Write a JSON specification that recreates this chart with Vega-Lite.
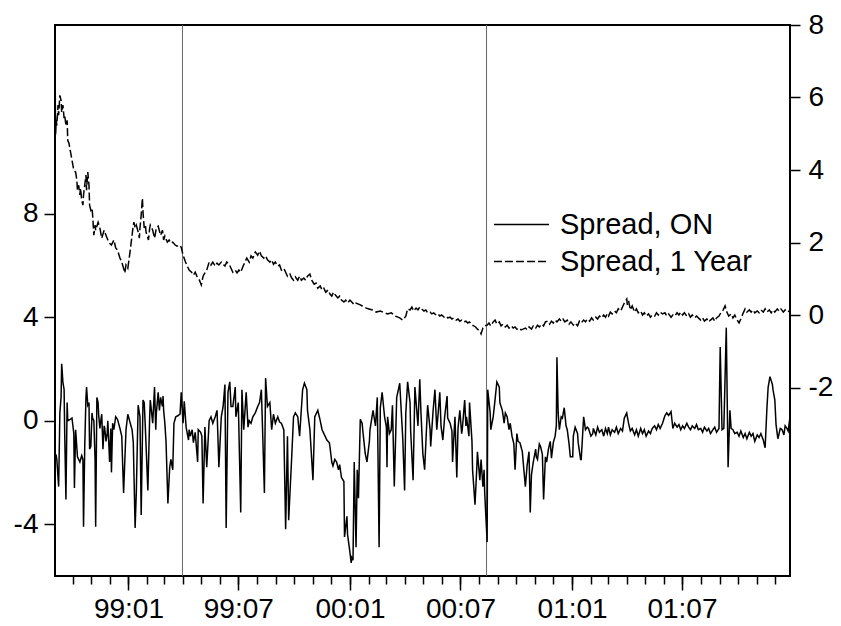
{
  "$schema": "https://vega.github.io/schema/vega-lite/v6.json",
  "width": 735,
  "height": 551,
  "autosize": {"type": "none"},
  "padding": {"left": 55, "top": 25, "right": 51, "bottom": 50},
  "background": "white",
  "config": {
    "view": {"stroke": "black", "strokeWidth": 2},
    "font": "Liberation Sans",
    "axis": {"labelFont": "Liberation Sans", "labelFontSize": 28, "labelColor": "#000", "tickColor": "#000", "tickWidth": 1.5, "domain": false, "grid": false}
  },
  "datasets": {
    "events": [{"date": "1999-03-31"}, {"date": "2000-08-13"}],
    "on": [
      {"date":"1998-09-02","value":-1.4,"series":"Spread, ON"},
      {"date":"1998-09-04","value":-1.35,"series":"Spread, ON"},
      {"date":"1998-09-05","value":-1.5,"series":"Spread, ON"},
      {"date":"1998-09-08","value":-2.55,"series":"Spread, ON"},
      {"date":"1998-09-10","value":0.3,"series":"Spread, ON"},
      {"date":"1998-09-12","value":0.9,"series":"Spread, ON"},
      {"date":"1998-09-13","value":2.2,"series":"Spread, ON"},
      {"date":"1998-09-15","value":1.5,"series":"Spread, ON"},
      {"date":"1998-09-17","value":1.2,"series":"Spread, ON"},
      {"date":"1998-09-18","value":-0.5,"series":"Spread, ON"},
      {"date":"1998-09-20","value":-3.05,"series":"Spread, ON"},
      {"date":"1998-09-22","value":0.7,"series":"Spread, ON"},
      {"date":"1998-09-23","value":0,"series":"Spread, ON"},
      {"date":"1998-09-27","value":0.05,"series":"Spread, ON"},
      {"date":"1998-09-30","value":0.1,"series":"Spread, ON"},
      {"date":"1998-10-03","value":-0.5,"series":"Spread, ON"},
      {"date":"1998-10-04","value":-2.6,"series":"Spread, ON"},
      {"date":"1998-10-06","value":-0.35,"series":"Spread, ON"},
      {"date":"1998-10-09","value":-1.4,"series":"Spread, ON"},
      {"date":"1998-10-13","value":-1.6,"series":"Spread, ON"},
      {"date":"1998-10-16","value":-1.35,"series":"Spread, ON"},
      {"date":"1998-10-18","value":-1.5,"series":"Spread, ON"},
      {"date":"1998-10-19","value":-4.1,"series":"Spread, ON"},
      {"date":"1998-10-21","value":-1.0,"series":"Spread, ON"},
      {"date":"1998-10-23","value":0.9,"series":"Spread, ON"},
      {"date":"1998-10-24","value":1.3,"series":"Spread, ON"},
      {"date":"1998-10-26","value":0.6,"series":"Spread, ON"},
      {"date":"1998-10-28","value":0.7,"series":"Spread, ON"},
      {"date":"1998-10-29","value":-1.1,"series":"Spread, ON"},
      {"date":"1998-10-31","value":-1.0,"series":"Spread, ON"},
      {"date":"1998-11-02","value":0.3,"series":"Spread, ON"},
      {"date":"1998-11-03","value":0.1,"series":"Spread, ON"},
      {"date":"1998-11-05","value":0,"series":"Spread, ON"},
      {"date":"1998-11-07","value":-1.5,"series":"Spread, ON"},
      {"date":"1998-11-08","value":-4.1,"series":"Spread, ON"},
      {"date":"1998-11-10","value":0.9,"series":"Spread, ON"},
      {"date":"1998-11-12","value":0.7,"series":"Spread, ON"},
      {"date":"1998-11-13","value":0.2,"series":"Spread, ON"},
      {"date":"1998-11-15","value":-0.3,"series":"Spread, ON"},
      {"date":"1998-11-17","value":0.1,"series":"Spread, ON"},
      {"date":"1998-11-18","value":0.25,"series":"Spread, ON"},
      {"date":"1998-11-20","value":-1.1,"series":"Spread, ON"},
      {"date":"1998-11-22","value":-0.2,"series":"Spread, ON"},
      {"date":"1998-11-23","value":-0.3,"series":"Spread, ON"},
      {"date":"1998-11-25","value":-0.8,"series":"Spread, ON"},
      {"date":"1998-11-27","value":-0.5,"series":"Spread, ON"},
      {"date":"1998-11-28","value":0,"series":"Spread, ON"},
      {"date":"1998-12-01","value":-1.6,"series":"Spread, ON"},
      {"date":"1998-12-03","value":-0.3,"series":"Spread, ON"},
      {"date":"1998-12-04","value":-2.0,"series":"Spread, ON"},
      {"date":"1998-12-06","value":-0.1,"series":"Spread, ON"},
      {"date":"1998-12-08","value":-0.35,"series":"Spread, ON"},
      {"date":"1998-12-11","value":0.15,"series":"Spread, ON"},
      {"date":"1998-12-14","value":0.05,"series":"Spread, ON"},
      {"date":"1998-12-18","value":-0.3,"series":"Spread, ON"},
      {"date":"1998-12-21","value":-0.6,"series":"Spread, ON"},
      {"date":"1998-12-24","value":-2.8,"series":"Spread, ON"},
      {"date":"1998-12-28","value":-0.35,"series":"Spread, ON"},
      {"date":"1998-12-31","value":0.25,"series":"Spread, ON"},
      {"date":"1999-01-04","value":-0.1,"series":"Spread, ON"},
      {"date":"1999-01-07","value":-0.35,"series":"Spread, ON"},
      {"date":"1999-01-09","value":-0.85,"series":"Spread, ON"},
      {"date":"1999-01-12","value":-4.15,"series":"Spread, ON"},
      {"date":"1999-01-14","value":-2.75,"series":"Spread, ON"},
      {"date":"1999-01-17","value":0.6,"series":"Spread, ON"},
      {"date":"1999-01-20","value":0.15,"series":"Spread, ON"},
      {"date":"1999-01-22","value":-3.65,"series":"Spread, ON"},
      {"date":"1999-01-25","value":0.8,"series":"Spread, ON"},
      {"date":"1999-01-27","value":0.7,"series":"Spread, ON"},
      {"date":"1999-01-29","value":-0.35,"series":"Spread, ON"},
      {"date":"1999-02-02","value":-2.7,"series":"Spread, ON"},
      {"date":"1999-02-05","value":0.15,"series":"Spread, ON"},
      {"date":"1999-02-06","value":0.8,"series":"Spread, ON"},
      {"date":"1999-02-10","value":-0.1,"series":"Spread, ON"},
      {"date":"1999-02-13","value":1.3,"series":"Spread, ON"},
      {"date":"1999-02-15","value":-0.35,"series":"Spread, ON"},
      {"date":"1999-02-16","value":0.3,"series":"Spread, ON"},
      {"date":"1999-02-19","value":1.1,"series":"Spread, ON"},
      {"date":"1999-02-21","value":0.4,"series":"Spread, ON"},
      {"date":"1999-02-23","value":0.9,"series":"Spread, ON"},
      {"date":"1999-02-26","value":0.55,"series":"Spread, ON"},
      {"date":"1999-02-27","value":0.95,"series":"Spread, ON"},
      {"date":"1999-02-28","value":0.4,"series":"Spread, ON"},
      {"date":"1999-03-02","value":-0.1,"series":"Spread, ON"},
      {"date":"1999-03-04","value":-0.85,"series":"Spread, ON"},
      {"date":"1999-03-07","value":-3.2,"series":"Spread, ON"},
      {"date":"1999-03-10","value":-1.8,"series":"Spread, ON"},
      {"date":"1999-03-12","value":-1.5,"series":"Spread, ON"},
      {"date":"1999-03-15","value":-1.9,"series":"Spread, ON"},
      {"date":"1999-03-17","value":-0.1,"series":"Spread, ON"},
      {"date":"1999-03-20","value":0.15,"series":"Spread, ON"},
      {"date":"1999-03-24","value":0.2,"series":"Spread, ON"},
      {"date":"1999-03-27","value":0.25,"series":"Spread, ON"},
      {"date":"1999-03-29","value":1.1,"series":"Spread, ON"},
      {"date":"1999-04-01","value":-0.1,"series":"Spread, ON"},
      {"date":"1999-04-03","value":0.75,"series":"Spread, ON"},
      {"date":"1999-04-06","value":-0.25,"series":"Spread, ON"},
      {"date":"1999-04-10","value":-0.75,"series":"Spread, ON"},
      {"date":"1999-04-11","value":-0.35,"series":"Spread, ON"},
      {"date":"1999-04-13","value":-0.6,"series":"Spread, ON"},
      {"date":"1999-04-16","value":-0.35,"series":"Spread, ON"},
      {"date":"1999-04-18","value":-0.85,"series":"Spread, ON"},
      {"date":"1999-04-21","value":-0.45,"series":"Spread, ON"},
      {"date":"1999-04-25","value":-1.6,"series":"Spread, ON"},
      {"date":"1999-04-26","value":-0.35,"series":"Spread, ON"},
      {"date":"1999-04-30","value":-0.45,"series":"Spread, ON"},
      {"date":"1999-05-02","value":-0.6,"series":"Spread, ON"},
      {"date":"1999-05-04","value":-3.2,"series":"Spread, ON"},
      {"date":"1999-05-07","value":-0.25,"series":"Spread, ON"},
      {"date":"1999-05-10","value":-1.8,"series":"Spread, ON"},
      {"date":"1999-05-14","value":0,"series":"Spread, ON"},
      {"date":"1999-05-17","value":0.15,"series":"Spread, ON"},
      {"date":"1999-05-20","value":-0.1,"series":"Spread, ON"},
      {"date":"1999-05-24","value":0.15,"series":"Spread, ON"},
      {"date":"1999-05-27","value":0.4,"series":"Spread, ON"},
      {"date":"1999-05-30","value":-1.8,"series":"Spread, ON"},
      {"date":"1999-06-03","value":0.15,"series":"Spread, ON"},
      {"date":"1999-06-06","value":0.55,"series":"Spread, ON"},
      {"date":"1999-06-09","value":1.4,"series":"Spread, ON"},
      {"date":"1999-06-11","value":-4.15,"series":"Spread, ON"},
      {"date":"1999-06-14","value":1.1,"series":"Spread, ON"},
      {"date":"1999-06-17","value":1.5,"series":"Spread, ON"},
      {"date":"1999-06-19","value":0.55,"series":"Spread, ON"},
      {"date":"1999-06-22","value":0.55,"series":"Spread, ON"},
      {"date":"1999-06-26","value":1.3,"series":"Spread, ON"},
      {"date":"1999-06-27","value":0.15,"series":"Spread, ON"},
      {"date":"1999-07-01","value":0.7,"series":"Spread, ON"},
      {"date":"1999-07-02","value":-0.35,"series":"Spread, ON"},
      {"date":"1999-07-05","value":-3.55,"series":"Spread, ON"},
      {"date":"1999-07-07","value":1.2,"series":"Spread, ON"},
      {"date":"1999-07-10","value":-0.35,"series":"Spread, ON"},
      {"date":"1999-07-14","value":1.1,"series":"Spread, ON"},
      {"date":"1999-07-17","value":-0.25,"series":"Spread, ON"},
      {"date":"1999-07-19","value":0,"series":"Spread, ON"},
      {"date":"1999-07-22","value":-0.1,"series":"Spread, ON"},
      {"date":"1999-07-25","value":0.15,"series":"Spread, ON"},
      {"date":"1999-07-29","value":0.3,"series":"Spread, ON"},
      {"date":"1999-08-02","value":0.55,"series":"Spread, ON"},
      {"date":"1999-08-05","value":0.7,"series":"Spread, ON"},
      {"date":"1999-08-08","value":1.2,"series":"Spread, ON"},
      {"date":"1999-08-10","value":-0.35,"series":"Spread, ON"},
      {"date":"1999-08-13","value":-2.8,"series":"Spread, ON"},
      {"date":"1999-08-15","value":1.65,"series":"Spread, ON"},
      {"date":"1999-08-18","value":0.55,"series":"Spread, ON"},
      {"date":"1999-08-22","value":0.7,"series":"Spread, ON"},
      {"date":"1999-08-25","value":-0.35,"series":"Spread, ON"},
      {"date":"1999-08-28","value":0.25,"series":"Spread, ON"},
      {"date":"1999-08-31","value":-0.1,"series":"Spread, ON"},
      {"date":"1999-09-04","value":0.15,"series":"Spread, ON"},
      {"date":"1999-09-07","value":-0.05,"series":"Spread, ON"},
      {"date":"1999-09-10","value":-0.1,"series":"Spread, ON"},
      {"date":"1999-09-14","value":-0.35,"series":"Spread, ON"},
      {"date":"1999-09-17","value":-4.2,"series":"Spread, ON"},
      {"date":"1999-09-20","value":-0.6,"series":"Spread, ON"},
      {"date":"1999-09-22","value":-3.85,"series":"Spread, ON"},
      {"date":"1999-09-27","value":-1.4,"series":"Spread, ON"},
      {"date":"1999-09-30","value":0.15,"series":"Spread, ON"},
      {"date":"1999-10-03","value":0.3,"series":"Spread, ON"},
      {"date":"1999-10-07","value":0.15,"series":"Spread, ON"},
      {"date":"1999-10-10","value":-0.6,"series":"Spread, ON"},
      {"date":"1999-10-15","value":1.2,"series":"Spread, ON"},
      {"date":"1999-10-18","value":1.45,"series":"Spread, ON"},
      {"date":"1999-10-22","value":1.2,"series":"Spread, ON"},
      {"date":"1999-10-23","value":0.4,"series":"Spread, ON"},
      {"date":"1999-10-27","value":-0.35,"series":"Spread, ON"},
      {"date":"1999-11-01","value":-2.3,"series":"Spread, ON"},
      {"date":"1999-11-04","value":0.15,"series":"Spread, ON"},
      {"date":"1999-11-09","value":0.4,"series":"Spread, ON"},
      {"date":"1999-11-13","value":0,"series":"Spread, ON"},
      {"date":"1999-11-16","value":-0.35,"series":"Spread, ON"},
      {"date":"1999-11-21","value":-0.6,"series":"Spread, ON"},
      {"date":"1999-11-24","value":-0.75,"series":"Spread, ON"},
      {"date":"1999-11-28","value":-0.85,"series":"Spread, ON"},
      {"date":"1999-11-29","value":-1.0,"series":"Spread, ON"},
      {"date":"1999-12-02","value":-1.6,"series":"Spread, ON"},
      {"date":"1999-12-04","value":-1.75,"series":"Spread, ON"},
      {"date":"1999-12-07","value":-1.5,"series":"Spread, ON"},
      {"date":"1999-12-10","value":-1.6,"series":"Spread, ON"},
      {"date":"1999-12-13","value":-1.9,"series":"Spread, ON"},
      {"date":"1999-12-15","value":-1.7,"series":"Spread, ON"},
      {"date":"1999-12-18","value":-2.2,"series":"Spread, ON"},
      {"date":"1999-12-22","value":-2.35,"series":"Spread, ON"},
      {"date":"1999-12-23","value":-4.5,"series":"Spread, ON"},
      {"date":"1999-12-27","value":-3.7,"series":"Spread, ON"},
      {"date":"1999-12-28","value":-4.4,"series":"Spread, ON"},
      {"date":"2000-01-01","value":-5.1,"series":"Spread, ON"},
      {"date":"2000-01-03","value":-5.5,"series":"Spread, ON"},
      {"date":"2000-01-04","value":-5.3,"series":"Spread, ON"},
      {"date":"2000-01-06","value":-5.4,"series":"Spread, ON"},
      {"date":"2000-01-08","value":-1.6,"series":"Spread, ON"},
      {"date":"2000-01-11","value":-4.9,"series":"Spread, ON"},
      {"date":"2000-01-13","value":-1.9,"series":"Spread, ON"},
      {"date":"2000-01-15","value":-3.0,"series":"Spread, ON"},
      {"date":"2000-01-18","value":0.05,"series":"Spread, ON"},
      {"date":"2000-01-21","value":-0.1,"series":"Spread, ON"},
      {"date":"2000-01-22","value":-0.35,"series":"Spread, ON"},
      {"date":"2000-01-26","value":-1.25,"series":"Spread, ON"},
      {"date":"2000-01-29","value":-1.6,"series":"Spread, ON"},
      {"date":"2000-02-02","value":-0.8,"series":"Spread, ON"},
      {"date":"2000-02-03","value":-0.35,"series":"Spread, ON"},
      {"date":"2000-02-08","value":0.4,"series":"Spread, ON"},
      {"date":"2000-02-12","value":-0.2,"series":"Spread, ON"},
      {"date":"2000-02-15","value":0.9,"series":"Spread, ON"},
      {"date":"2000-02-18","value":-4.9,"series":"Spread, ON"},
      {"date":"2000-02-20","value":0.5,"series":"Spread, ON"},
      {"date":"2000-02-23","value":1.1,"series":"Spread, ON"},
      {"date":"2000-02-27","value":0.15,"series":"Spread, ON"},
      {"date":"2000-03-01","value":-0.25,"series":"Spread, ON"},
      {"date":"2000-03-02","value":-1.8,"series":"Spread, ON"},
      {"date":"2000-03-03","value":0.15,"series":"Spread, ON"},
      {"date":"2000-03-06","value":-0.5,"series":"Spread, ON"},
      {"date":"2000-03-09","value":-0.35,"series":"Spread, ON"},
      {"date":"2000-03-11","value":0.6,"series":"Spread, ON"},
      {"date":"2000-03-14","value":-2.55,"series":"Spread, ON"},
      {"date":"2000-03-18","value":0.9,"series":"Spread, ON"},
      {"date":"2000-03-23","value":1.45,"series":"Spread, ON"},
      {"date":"2000-03-26","value":0.15,"series":"Spread, ON"},
      {"date":"2000-03-28","value":-0.7,"series":"Spread, ON"},
      {"date":"2000-03-31","value":-2.7,"series":"Spread, ON"},
      {"date":"2000-04-02","value":0.3,"series":"Spread, ON"},
      {"date":"2000-04-05","value":1.5,"series":"Spread, ON"},
      {"date":"2000-04-09","value":0.7,"series":"Spread, ON"},
      {"date":"2000-04-10","value":-0.4,"series":"Spread, ON"},
      {"date":"2000-04-14","value":-2.3,"series":"Spread, ON"},
      {"date":"2000-04-17","value":1.3,"series":"Spread, ON"},
      {"date":"2000-04-20","value":0.4,"series":"Spread, ON"},
      {"date":"2000-04-22","value":-0.2,"series":"Spread, ON"},
      {"date":"2000-04-25","value":1.6,"series":"Spread, ON"},
      {"date":"2000-04-27","value":0.3,"series":"Spread, ON"},
      {"date":"2000-04-30","value":-1.25,"series":"Spread, ON"},
      {"date":"2000-05-03","value":-1.9,"series":"Spread, ON"},
      {"date":"2000-05-07","value":0.15,"series":"Spread, ON"},
      {"date":"2000-05-08","value":0.6,"series":"Spread, ON"},
      {"date":"2000-05-12","value":-0.35,"series":"Spread, ON"},
      {"date":"2000-05-13","value":-1.0,"series":"Spread, ON"},
      {"date":"2000-05-17","value":0.4,"series":"Spread, ON"},
      {"date":"2000-05-20","value":1.2,"series":"Spread, ON"},
      {"date":"2000-05-23","value":-0.35,"series":"Spread, ON"},
      {"date":"2000-05-25","value":0.2,"series":"Spread, ON"},
      {"date":"2000-05-28","value":1.1,"series":"Spread, ON"},
      {"date":"2000-05-30","value":-0.2,"series":"Spread, ON"},
      {"date":"2000-06-02","value":-0.75,"series":"Spread, ON"},
      {"date":"2000-06-05","value":0.15,"series":"Spread, ON"},
      {"date":"2000-06-09","value":0.95,"series":"Spread, ON"},
      {"date":"2000-06-10","value":0.1,"series":"Spread, ON"},
      {"date":"2000-06-14","value":-0.1,"series":"Spread, ON"},
      {"date":"2000-06-17","value":-0.4,"series":"Spread, ON"},
      {"date":"2000-06-18","value":-1.6,"series":"Spread, ON"},
      {"date":"2000-06-22","value":0.15,"series":"Spread, ON"},
      {"date":"2000-06-25","value":-2.2,"series":"Spread, ON"},
      {"date":"2000-06-27","value":-0.3,"series":"Spread, ON"},
      {"date":"2000-06-30","value":0.4,"series":"Spread, ON"},
      {"date":"2000-07-03","value":-0.5,"series":"Spread, ON"},
      {"date":"2000-07-04","value":-0.35,"series":"Spread, ON"},
      {"date":"2000-07-08","value":0.8,"series":"Spread, ON"},
      {"date":"2000-07-10","value":-0.2,"series":"Spread, ON"},
      {"date":"2000-07-11","value":0.15,"series":"Spread, ON"},
      {"date":"2000-07-15","value":-0.6,"series":"Spread, ON"},
      {"date":"2000-07-16","value":0.7,"series":"Spread, ON"},
      {"date":"2000-07-20","value":-0.8,"series":"Spread, ON"},
      {"date":"2000-07-21","value":-1.9,"series":"Spread, ON"},
      {"date":"2000-07-25","value":-3.25,"series":"Spread, ON"},
      {"date":"2000-07-28","value":-1.8,"series":"Spread, ON"},
      {"date":"2000-07-29","value":-1.2,"series":"Spread, ON"},
      {"date":"2000-08-02","value":-2.3,"series":"Spread, ON"},
      {"date":"2000-08-04","value":-1.5,"series":"Spread, ON"},
      {"date":"2000-08-07","value":-2.55,"series":"Spread, ON"},
      {"date":"2000-08-09","value":-1.9,"series":"Spread, ON"},
      {"date":"2000-08-10","value":-2.8,"series":"Spread, ON"},
      {"date":"2000-08-14","value":-4.7,"series":"Spread, ON"},
      {"date":"2000-08-15","value":1.2,"series":"Spread, ON"},
      {"date":"2000-08-19","value":0.3,"series":"Spread, ON"},
      {"date":"2000-08-20","value":-0.35,"series":"Spread, ON"},
      {"date":"2000-08-22","value":-0.1,"series":"Spread, ON"},
      {"date":"2000-08-24","value":0.15,"series":"Spread, ON"},
      {"date":"2000-08-27","value":0.8,"series":"Spread, ON"},
      {"date":"2000-08-30","value":1.5,"series":"Spread, ON"},
      {"date":"2000-09-03","value":1.3,"series":"Spread, ON"},
      {"date":"2000-09-04","value":0.7,"series":"Spread, ON"},
      {"date":"2000-09-08","value":0.4,"series":"Spread, ON"},
      {"date":"2000-09-11","value":-0.1,"series":"Spread, ON"},
      {"date":"2000-09-13","value":0.3,"series":"Spread, ON"},
      {"date":"2000-09-16","value":0.15,"series":"Spread, ON"},
      {"date":"2000-09-19","value":-0.35,"series":"Spread, ON"},
      {"date":"2000-09-21","value":-0.1,"series":"Spread, ON"},
      {"date":"2000-09-24","value":-0.6,"series":"Spread, ON"},
      {"date":"2000-09-27","value":-0.9,"series":"Spread, ON"},
      {"date":"2000-09-29","value":-1.9,"series":"Spread, ON"},
      {"date":"2000-10-02","value":-0.5,"series":"Spread, ON"},
      {"date":"2000-10-04","value":-0.8,"series":"Spread, ON"},
      {"date":"2000-10-07","value":-0.85,"series":"Spread, ON"},
      {"date":"2000-10-11","value":-1.2,"series":"Spread, ON"},
      {"date":"2000-10-12","value":-1.5,"series":"Spread, ON"},
      {"date":"2000-10-16","value":-2.55,"series":"Spread, ON"},
      {"date":"2000-10-19","value":-1.7,"series":"Spread, ON"},
      {"date":"2000-10-22","value":-1.2,"series":"Spread, ON"},
      {"date":"2000-10-24","value":-3.55,"series":"Spread, ON"},
      {"date":"2000-10-26","value":-2.1,"series":"Spread, ON"},
      {"date":"2000-10-29","value":-1.6,"series":"Spread, ON"},
      {"date":"2000-11-02","value":-1.1,"series":"Spread, ON"},
      {"date":"2000-11-03","value":-1.4,"series":"Spread, ON"},
      {"date":"2000-11-05","value":-1.5,"series":"Spread, ON"},
      {"date":"2000-11-08","value":-0.9,"series":"Spread, ON"},
      {"date":"2000-11-10","value":-1.0,"series":"Spread, ON"},
      {"date":"2000-11-13","value":-1.3,"series":"Spread, ON"},
      {"date":"2000-11-15","value":-3.05,"series":"Spread, ON"},
      {"date":"2000-11-18","value":-1.4,"series":"Spread, ON"},
      {"date":"2000-11-20","value":-1.6,"series":"Spread, ON"},
      {"date":"2000-11-23","value":-1.1,"series":"Spread, ON"},
      {"date":"2000-11-26","value":-0.8,"series":"Spread, ON"},
      {"date":"2000-11-28","value":-1.45,"series":"Spread, ON"},
      {"date":"2000-12-01","value":-0.85,"series":"Spread, ON"},
      {"date":"2000-12-04","value":-0.6,"series":"Spread, ON"},
      {"date":"2000-12-06","value":-0.2,"series":"Spread, ON"},
      {"date":"2000-12-07","value":2.45,"series":"Spread, ON"},
      {"date":"2000-12-09","value":0.3,"series":"Spread, ON"},
      {"date":"2000-12-11","value":-0.35,"series":"Spread, ON"},
      {"date":"2000-12-14","value":0.15,"series":"Spread, ON"},
      {"date":"2000-12-16","value":0.1,"series":"Spread, ON"},
      {"date":"2000-12-19","value":0.5,"series":"Spread, ON"},
      {"date":"2000-12-22","value":-0.2,"series":"Spread, ON"},
      {"date":"2000-12-24","value":-0.35,"series":"Spread, ON"},
      {"date":"2000-12-27","value":-0.9,"series":"Spread, ON"},
      {"date":"2000-12-29","value":-1.4,"series":"Spread, ON"},
      {"date":"2001-01-02","value":-1.4,"series":"Spread, ON"},
      {"date":"2001-01-03","value":-0.6,"series":"Spread, ON"},
      {"date":"2001-01-06","value":-0.25,"series":"Spread, ON"},
      {"date":"2001-01-10","value":-0.5,"series":"Spread, ON"},
      {"date":"2001-01-11","value":-0.85,"series":"Spread, ON"},
      {"date":"2001-01-15","value":-1.5,"series":"Spread, ON"},
      {"date":"2001-01-16","value":-1.5,"series":"Spread, ON"},
      {"date":"2001-01-20","value":0.15,"series":"Spread, ON"},
      {"date":"2001-01-23","value":-0.35,"series":"Spread, ON"},
      {"date":"2001-01-26","value":-0.25,"series":"Spread, ON"},
      {"date":"2001-01-28","value":-0.3,"series":"Spread, ON"},
      {"date":"2001-02-01","value":-0.6,"series":"Spread, ON"},
      {"date":"2001-02-04","value":-0.5,"series":"Spread, ON"},
      {"date":"2001-02-05","value":-0.3,"series":"Spread, ON"},
      {"date":"2001-02-09","value":-0.55,"series":"Spread, ON"},
      {"date":"2001-02-12","value":-0.25,"series":"Spread, ON"},
      {"date":"2001-02-15","value":-0.45,"series":"Spread, ON"},
      {"date":"2001-02-19","value":-0.35,"series":"Spread, ON"},
      {"date":"2001-02-22","value":-0.6,"series":"Spread, ON"},
      {"date":"2001-02-25","value":-0.3,"series":"Spread, ON"},
      {"date":"2001-02-28","value":-0.5,"series":"Spread, ON"},
      {"date":"2001-03-02","value":-0.25,"series":"Spread, ON"},
      {"date":"2001-03-05","value":-0.55,"series":"Spread, ON"},
      {"date":"2001-03-08","value":-0.35,"series":"Spread, ON"},
      {"date":"2001-03-12","value":-0.45,"series":"Spread, ON"},
      {"date":"2001-03-15","value":-0.25,"series":"Spread, ON"},
      {"date":"2001-03-18","value":-0.5,"series":"Spread, ON"},
      {"date":"2001-03-22","value":-0.3,"series":"Spread, ON"},
      {"date":"2001-03-25","value":-0.4,"series":"Spread, ON"},
      {"date":"2001-03-28","value":0.1,"series":"Spread, ON"},
      {"date":"2001-04-01","value":0.3,"series":"Spread, ON"},
      {"date":"2001-04-02","value":0.15,"series":"Spread, ON"},
      {"date":"2001-04-04","value":-0.1,"series":"Spread, ON"},
      {"date":"2001-04-07","value":-0.4,"series":"Spread, ON"},
      {"date":"2001-04-10","value":-0.3,"series":"Spread, ON"},
      {"date":"2001-04-14","value":-0.55,"series":"Spread, ON"},
      {"date":"2001-04-17","value":-0.35,"series":"Spread, ON"},
      {"date":"2001-04-20","value":-0.6,"series":"Spread, ON"},
      {"date":"2001-04-24","value":-0.3,"series":"Spread, ON"},
      {"date":"2001-04-27","value":-0.5,"series":"Spread, ON"},
      {"date":"2001-04-30","value":-0.35,"series":"Spread, ON"},
      {"date":"2001-05-03","value":-0.6,"series":"Spread, ON"},
      {"date":"2001-05-07","value":-0.4,"series":"Spread, ON"},
      {"date":"2001-05-10","value":-0.5,"series":"Spread, ON"},
      {"date":"2001-05-13","value":-0.3,"series":"Spread, ON"},
      {"date":"2001-05-17","value":-0.2,"series":"Spread, ON"},
      {"date":"2001-05-20","value":-0.35,"series":"Spread, ON"},
      {"date":"2001-05-23","value":-0.15,"series":"Spread, ON"},
      {"date":"2001-05-26","value":-0.3,"series":"Spread, ON"},
      {"date":"2001-05-30","value":-0.1,"series":"Spread, ON"},
      {"date":"2001-06-03","value":0.2,"series":"Spread, ON"},
      {"date":"2001-06-06","value":0.3,"series":"Spread, ON"},
      {"date":"2001-06-09","value":0.2,"series":"Spread, ON"},
      {"date":"2001-06-13","value":0.35,"series":"Spread, ON"},
      {"date":"2001-06-16","value":-0.3,"series":"Spread, ON"},
      {"date":"2001-06-19","value":-0.1,"series":"Spread, ON"},
      {"date":"2001-06-23","value":-0.25,"series":"Spread, ON"},
      {"date":"2001-06-26","value":-0.15,"series":"Spread, ON"},
      {"date":"2001-06-29","value":-0.35,"series":"Spread, ON"},
      {"date":"2001-07-02","value":-0.2,"series":"Spread, ON"},
      {"date":"2001-07-05","value":-0.3,"series":"Spread, ON"},
      {"date":"2001-07-09","value":-0.1,"series":"Spread, ON"},
      {"date":"2001-07-12","value":-0.25,"series":"Spread, ON"},
      {"date":"2001-07-15","value":-0.35,"series":"Spread, ON"},
      {"date":"2001-07-18","value":-0.2,"series":"Spread, ON"},
      {"date":"2001-07-22","value":-0.3,"series":"Spread, ON"},
      {"date":"2001-07-25","value":-0.15,"series":"Spread, ON"},
      {"date":"2001-07-28","value":-0.35,"series":"Spread, ON"},
      {"date":"2001-08-01","value":-0.3,"series":"Spread, ON"},
      {"date":"2001-08-04","value":-0.45,"series":"Spread, ON"},
      {"date":"2001-08-07","value":-0.25,"series":"Spread, ON"},
      {"date":"2001-08-11","value":-0.4,"series":"Spread, ON"},
      {"date":"2001-08-14","value":-0.3,"series":"Spread, ON"},
      {"date":"2001-08-17","value":-0.5,"series":"Spread, ON"},
      {"date":"2001-08-21","value":-0.35,"series":"Spread, ON"},
      {"date":"2001-08-24","value":-0.25,"series":"Spread, ON"},
      {"date":"2001-08-27","value":-0.45,"series":"Spread, ON"},
      {"date":"2001-08-31","value":-0.3,"series":"Spread, ON"},
      {"date":"2001-09-02","value":2.85,"series":"Spread, ON"},
      {"date":"2001-09-05","value":-0.35,"series":"Spread, ON"},
      {"date":"2001-09-08","value":-0.3,"series":"Spread, ON"},
      {"date":"2001-09-12","value":3.6,"series":"Spread, ON"},
      {"date":"2001-09-15","value":-1.8,"series":"Spread, ON"},
      {"date":"2001-09-18","value":0.4,"series":"Spread, ON"},
      {"date":"2001-09-20","value":-0.3,"series":"Spread, ON"},
      {"date":"2001-09-23","value":-0.35,"series":"Spread, ON"},
      {"date":"2001-09-26","value":-0.5,"series":"Spread, ON"},
      {"date":"2001-09-30","value":-0.45,"series":"Spread, ON"},
      {"date":"2001-10-03","value":-0.6,"series":"Spread, ON"},
      {"date":"2001-10-06","value":-0.4,"series":"Spread, ON"},
      {"date":"2001-10-10","value":-0.65,"series":"Spread, ON"},
      {"date":"2001-10-13","value":-0.5,"series":"Spread, ON"},
      {"date":"2001-10-16","value":-0.7,"series":"Spread, ON"},
      {"date":"2001-10-20","value":-0.45,"series":"Spread, ON"},
      {"date":"2001-10-23","value":-0.6,"series":"Spread, ON"},
      {"date":"2001-10-26","value":-0.5,"series":"Spread, ON"},
      {"date":"2001-10-29","value":-0.8,"series":"Spread, ON"},
      {"date":"2001-11-02","value":-0.55,"series":"Spread, ON"},
      {"date":"2001-11-05","value":-0.65,"series":"Spread, ON"},
      {"date":"2001-11-08","value":-0.5,"series":"Spread, ON"},
      {"date":"2001-11-12","value":-0.75,"series":"Spread, ON"},
      {"date":"2001-11-15","value":-1.05,"series":"Spread, ON"},
      {"date":"2001-11-18","value":0.5,"series":"Spread, ON"},
      {"date":"2001-11-20","value":1.3,"series":"Spread, ON"},
      {"date":"2001-11-23","value":1.7,"series":"Spread, ON"},
      {"date":"2001-11-27","value":1.4,"series":"Spread, ON"},
      {"date":"2001-11-28","value":1.2,"series":"Spread, ON"},
      {"date":"2001-12-01","value":0.8,"series":"Spread, ON"},
      {"date":"2001-12-03","value":-0.15,"series":"Spread, ON"},
      {"date":"2001-12-06","value":-0.7,"series":"Spread, ON"},
      {"date":"2001-12-10","value":-0.3,"series":"Spread, ON"},
      {"date":"2001-12-13","value":-0.35,"series":"Spread, ON"},
      {"date":"2001-12-16","value":-0.55,"series":"Spread, ON"},
      {"date":"2001-12-18","value":-0.2,"series":"Spread, ON"},
      {"date":"2001-12-21","value":-0.3,"series":"Spread, ON"},
      {"date":"2001-12-23","value":-0.4,"series":"Spread, ON"},
      {"date":"2001-12-26","value":0.15,"series":"Spread, ON"}
    ],
    "oneyear": [
      {"date":"1998-09-02","value":7.02,"series":"Spread, 1 Year"},
      {"date":"1998-09-03","value":4.96,"series":"Spread, 1 Year"},
      {"date":"1998-09-04","value":5.37,"series":"Spread, 1 Year"},
      {"date":"1998-09-05","value":5.23,"series":"Spread, 1 Year"},
      {"date":"1998-09-07","value":5.79,"series":"Spread, 1 Year"},
      {"date":"1998-09-08","value":5.51,"series":"Spread, 1 Year"},
      {"date":"1998-09-10","value":6.06,"series":"Spread, 1 Year"},
      {"date":"1998-09-12","value":5.92,"series":"Spread, 1 Year"},
      {"date":"1998-09-13","value":5.59,"series":"Spread, 1 Year"},
      {"date":"1998-09-15","value":5.79,"series":"Spread, 1 Year"},
      {"date":"1998-09-17","value":5.43,"series":"Spread, 1 Year"},
      {"date":"1998-09-18","value":5.51,"series":"Spread, 1 Year"},
      {"date":"1998-09-20","value":5.23,"series":"Spread, 1 Year"},
      {"date":"1998-09-22","value":5.37,"series":"Spread, 1 Year"},
      {"date":"1998-09-23","value":4.82,"series":"Spread, 1 Year"},
      {"date":"1998-09-25","value":4.74,"series":"Spread, 1 Year"},
      {"date":"1998-10-03","value":3.99,"series":"Spread, 1 Year"},
      {"date":"1998-10-06","value":3.94,"series":"Spread, 1 Year"},
      {"date":"1998-10-08","value":3.72,"series":"Spread, 1 Year"},
      {"date":"1998-10-09","value":3.44,"series":"Spread, 1 Year"},
      {"date":"1998-10-11","value":3.58,"series":"Spread, 1 Year"},
      {"date":"1998-10-13","value":3.31,"series":"Spread, 1 Year"},
      {"date":"1998-10-14","value":3.5,"series":"Spread, 1 Year"},
      {"date":"1998-10-16","value":3.17,"series":"Spread, 1 Year"},
      {"date":"1998-10-18","value":3.03,"series":"Spread, 1 Year"},
      {"date":"1998-10-19","value":3.31,"series":"Spread, 1 Year"},
      {"date":"1998-10-21","value":3.58,"series":"Spread, 1 Year"},
      {"date":"1998-10-23","value":3.86,"series":"Spread, 1 Year"},
      {"date":"1998-10-24","value":3.44,"series":"Spread, 1 Year"},
      {"date":"1998-10-26","value":3.94,"series":"Spread, 1 Year"},
      {"date":"1998-10-28","value":3.58,"series":"Spread, 1 Year"},
      {"date":"1998-10-29","value":3.03,"series":"Spread, 1 Year"},
      {"date":"1998-10-31","value":2.89,"series":"Spread, 1 Year"},
      {"date":"1998-11-02","value":2.95,"series":"Spread, 1 Year"},
      {"date":"1998-11-03","value":2.75,"series":"Spread, 1 Year"},
      {"date":"1998-11-05","value":2.2,"series":"Spread, 1 Year"},
      {"date":"1998-11-07","value":2.48,"series":"Spread, 1 Year"},
      {"date":"1998-11-08","value":2.34,"series":"Spread, 1 Year"},
      {"date":"1998-11-12","value":2.56,"series":"Spread, 1 Year"},
      {"date":"1998-11-15","value":2.4,"series":"Spread, 1 Year"},
      {"date":"1998-11-18","value":2.12,"series":"Spread, 1 Year"},
      {"date":"1998-11-22","value":2.34,"series":"Spread, 1 Year"},
      {"date":"1998-11-25","value":2.2,"series":"Spread, 1 Year"},
      {"date":"1998-11-28","value":2.07,"series":"Spread, 1 Year"},
      {"date":"1998-12-01","value":1.98,"series":"Spread, 1 Year"},
      {"date":"1998-12-04","value":1.93,"series":"Spread, 1 Year"},
      {"date":"1998-12-08","value":2.07,"series":"Spread, 1 Year"},
      {"date":"1998-12-11","value":1.85,"series":"Spread, 1 Year"},
      {"date":"1998-12-14","value":1.79,"series":"Spread, 1 Year"},
      {"date":"1998-12-18","value":1.57,"series":"Spread, 1 Year"},
      {"date":"1998-12-21","value":1.46,"series":"Spread, 1 Year"},
      {"date":"1998-12-24","value":1.29,"series":"Spread, 1 Year"},
      {"date":"1998-12-26","value":1.16,"series":"Spread, 1 Year"},
      {"date":"1998-12-28","value":1.38,"series":"Spread, 1 Year"},
      {"date":"1998-12-31","value":1.29,"series":"Spread, 1 Year"},
      {"date":"1999-01-04","value":1.79,"series":"Spread, 1 Year"},
      {"date":"1999-01-07","value":2.2,"series":"Spread, 1 Year"},
      {"date":"1999-01-09","value":2.48,"series":"Spread, 1 Year"},
      {"date":"1999-01-10","value":2.56,"series":"Spread, 1 Year"},
      {"date":"1999-01-12","value":2.4,"series":"Spread, 1 Year"},
      {"date":"1999-01-14","value":2.48,"series":"Spread, 1 Year"},
      {"date":"1999-01-17","value":2.29,"series":"Spread, 1 Year"},
      {"date":"1999-01-19","value":2.12,"series":"Spread, 1 Year"},
      {"date":"1999-01-20","value":2.4,"series":"Spread, 1 Year"},
      {"date":"1999-01-22","value":2.75,"series":"Spread, 1 Year"},
      {"date":"1999-01-24","value":3.22,"series":"Spread, 1 Year"},
      {"date":"1999-01-25","value":2.84,"series":"Spread, 1 Year"},
      {"date":"1999-01-27","value":2.4,"series":"Spread, 1 Year"},
      {"date":"1999-01-29","value":2.48,"series":"Spread, 1 Year"},
      {"date":"1999-01-30","value":2.29,"series":"Spread, 1 Year"},
      {"date":"1999-02-03","value":2.07,"series":"Spread, 1 Year"},
      {"date":"1999-02-05","value":2.4,"series":"Spread, 1 Year"},
      {"date":"1999-02-06","value":2.48,"series":"Spread, 1 Year"},
      {"date":"1999-02-10","value":2.34,"series":"Spread, 1 Year"},
      {"date":"1999-02-11","value":2.26,"series":"Spread, 1 Year"},
      {"date":"1999-02-13","value":2.12,"series":"Spread, 1 Year"},
      {"date":"1999-02-16","value":2.4,"series":"Spread, 1 Year"},
      {"date":"1999-02-19","value":2.45,"series":"Spread, 1 Year"},
      {"date":"1999-02-23","value":2.2,"series":"Spread, 1 Year"},
      {"date":"1999-02-26","value":2.34,"series":"Spread, 1 Year"},
      {"date":"1999-02-28","value":2.07,"series":"Spread, 1 Year"},
      {"date":"1999-03-02","value":2.18,"series":"Spread, 1 Year"},
      {"date":"1999-03-06","value":2.01,"series":"Spread, 1 Year"},
      {"date":"1999-03-09","value":2.07,"series":"Spread, 1 Year"},
      {"date":"1999-03-12","value":1.98,"series":"Spread, 1 Year"},
      {"date":"1999-03-15","value":2.01,"series":"Spread, 1 Year"},
      {"date":"1999-03-19","value":1.93,"series":"Spread, 1 Year"},
      {"date":"1999-03-22","value":1.9,"series":"Spread, 1 Year"},
      {"date":"1999-03-25","value":1.93,"series":"Spread, 1 Year"},
      {"date":"1999-03-29","value":1.87,"series":"Spread, 1 Year"},
      {"date":"1999-04-01","value":1.65,"series":"Spread, 1 Year"},
      {"date":"1999-04-05","value":1.46,"series":"Spread, 1 Year"},
      {"date":"1999-04-08","value":1.35,"series":"Spread, 1 Year"},
      {"date":"1999-04-11","value":1.24,"series":"Spread, 1 Year"},
      {"date":"1999-04-15","value":1.18,"series":"Spread, 1 Year"},
      {"date":"1999-04-18","value":1.1,"series":"Spread, 1 Year"},
      {"date":"1999-04-21","value":1.18,"series":"Spread, 1 Year"},
      {"date":"1999-04-25","value":1.02,"series":"Spread, 1 Year"},
      {"date":"1999-04-28","value":0.96,"series":"Spread, 1 Year"},
      {"date":"1999-05-01","value":0.83,"series":"Spread, 1 Year"},
      {"date":"1999-05-04","value":1.07,"series":"Spread, 1 Year"},
      {"date":"1999-05-07","value":1.16,"series":"Spread, 1 Year"},
      {"date":"1999-05-10","value":1.24,"series":"Spread, 1 Year"},
      {"date":"1999-05-14","value":1.46,"series":"Spread, 1 Year"},
      {"date":"1999-05-17","value":1.38,"series":"Spread, 1 Year"},
      {"date":"1999-05-20","value":1.46,"series":"Spread, 1 Year"},
      {"date":"1999-05-24","value":1.35,"series":"Spread, 1 Year"},
      {"date":"1999-05-27","value":1.43,"series":"Spread, 1 Year"},
      {"date":"1999-05-30","value":1.38,"series":"Spread, 1 Year"},
      {"date":"1999-06-03","value":1.46,"series":"Spread, 1 Year"},
      {"date":"1999-06-06","value":1.4,"series":"Spread, 1 Year"},
      {"date":"1999-06-09","value":1.35,"series":"Spread, 1 Year"},
      {"date":"1999-06-12","value":1.46,"series":"Spread, 1 Year"},
      {"date":"1999-06-16","value":1.4,"series":"Spread, 1 Year"},
      {"date":"1999-06-19","value":1.29,"series":"Spread, 1 Year"},
      {"date":"1999-06-22","value":1.18,"series":"Spread, 1 Year"},
      {"date":"1999-06-26","value":1.24,"series":"Spread, 1 Year"},
      {"date":"1999-06-29","value":1.16,"series":"Spread, 1 Year"},
      {"date":"1999-07-02","value":1.24,"series":"Spread, 1 Year"},
      {"date":"1999-07-05","value":1.18,"series":"Spread, 1 Year"},
      {"date":"1999-07-09","value":1.35,"series":"Spread, 1 Year"},
      {"date":"1999-07-12","value":1.46,"series":"Spread, 1 Year"},
      {"date":"1999-07-15","value":1.57,"series":"Spread, 1 Year"},
      {"date":"1999-07-19","value":1.46,"series":"Spread, 1 Year"},
      {"date":"1999-07-22","value":1.63,"series":"Spread, 1 Year"},
      {"date":"1999-07-25","value":1.57,"series":"Spread, 1 Year"},
      {"date":"1999-07-29","value":1.74,"series":"Spread, 1 Year"},
      {"date":"1999-08-02","value":1.65,"series":"Spread, 1 Year"},
      {"date":"1999-08-05","value":1.76,"series":"Spread, 1 Year"},
      {"date":"1999-08-08","value":1.63,"series":"Spread, 1 Year"},
      {"date":"1999-08-12","value":1.57,"series":"Spread, 1 Year"},
      {"date":"1999-08-15","value":1.63,"series":"Spread, 1 Year"},
      {"date":"1999-08-18","value":1.52,"series":"Spread, 1 Year"},
      {"date":"1999-08-22","value":1.46,"series":"Spread, 1 Year"},
      {"date":"1999-08-25","value":1.52,"series":"Spread, 1 Year"},
      {"date":"1999-08-28","value":1.4,"series":"Spread, 1 Year"},
      {"date":"1999-08-31","value":1.46,"series":"Spread, 1 Year"},
      {"date":"1999-09-04","value":1.35,"series":"Spread, 1 Year"},
      {"date":"1999-09-07","value":1.38,"series":"Spread, 1 Year"},
      {"date":"1999-09-10","value":1.24,"series":"Spread, 1 Year"},
      {"date":"1999-09-14","value":1.29,"series":"Spread, 1 Year"},
      {"date":"1999-09-17","value":1.18,"series":"Spread, 1 Year"},
      {"date":"1999-09-20","value":1.07,"series":"Spread, 1 Year"},
      {"date":"1999-09-24","value":1.13,"series":"Spread, 1 Year"},
      {"date":"1999-09-27","value":1.02,"series":"Spread, 1 Year"},
      {"date":"1999-09-30","value":0.96,"series":"Spread, 1 Year"},
      {"date":"1999-10-03","value":1.05,"series":"Spread, 1 Year"},
      {"date":"1999-10-07","value":0.96,"series":"Spread, 1 Year"},
      {"date":"1999-10-10","value":1.07,"series":"Spread, 1 Year"},
      {"date":"1999-10-13","value":0.96,"series":"Spread, 1 Year"},
      {"date":"1999-10-17","value":1.02,"series":"Spread, 1 Year"},
      {"date":"1999-10-20","value":0.96,"series":"Spread, 1 Year"},
      {"date":"1999-10-23","value":1.07,"series":"Spread, 1 Year"},
      {"date":"1999-10-27","value":1.13,"series":"Spread, 1 Year"},
      {"date":"1999-10-30","value":0.96,"series":"Spread, 1 Year"},
      {"date":"1999-11-03","value":0.85,"series":"Spread, 1 Year"},
      {"date":"1999-11-06","value":0.88,"series":"Spread, 1 Year"},
      {"date":"1999-11-09","value":0.74,"series":"Spread, 1 Year"},
      {"date":"1999-11-13","value":0.8,"series":"Spread, 1 Year"},
      {"date":"1999-11-16","value":0.69,"series":"Spread, 1 Year"},
      {"date":"1999-11-19","value":0.74,"series":"Spread, 1 Year"},
      {"date":"1999-11-22","value":0.63,"series":"Spread, 1 Year"},
      {"date":"1999-11-26","value":0.69,"series":"Spread, 1 Year"},
      {"date":"1999-11-29","value":0.58,"series":"Spread, 1 Year"},
      {"date":"1999-12-02","value":0.52,"series":"Spread, 1 Year"},
      {"date":"1999-12-05","value":0.63,"series":"Spread, 1 Year"},
      {"date":"1999-12-08","value":0.55,"series":"Spread, 1 Year"},
      {"date":"1999-12-12","value":0.47,"series":"Spread, 1 Year"},
      {"date":"1999-12-15","value":0.52,"series":"Spread, 1 Year"},
      {"date":"1999-12-18","value":0.41,"series":"Spread, 1 Year"},
      {"date":"1999-12-22","value":0.36,"series":"Spread, 1 Year"},
      {"date":"1999-12-25","value":0.41,"series":"Spread, 1 Year"},
      {"date":"1999-12-28","value":0.33,"series":"Spread, 1 Year"},
      {"date":"2000-01-01","value":0.41,"series":"Spread, 1 Year"},
      {"date":"2000-01-04","value":0.36,"series":"Spread, 1 Year"},
      {"date":"2000-01-08","value":0.28,"series":"Spread, 1 Year"},
      {"date":"2000-01-11","value":0.33,"series":"Spread, 1 Year"},
      {"date":"2000-01-18","value":0.28,"series":"Spread, 1 Year"},
      {"date":"2000-01-24","value":0.22,"series":"Spread, 1 Year"},
      {"date":"2000-01-31","value":0.17,"series":"Spread, 1 Year"},
      {"date":"2000-02-07","value":0.14,"series":"Spread, 1 Year"},
      {"date":"2000-02-13","value":0.08,"series":"Spread, 1 Year"},
      {"date":"2000-02-20","value":0.11,"series":"Spread, 1 Year"},
      {"date":"2000-02-27","value":0.06,"series":"Spread, 1 Year"},
      {"date":"2000-03-03","value":0.03,"series":"Spread, 1 Year"},
      {"date":"2000-03-09","value":0.06,"series":"Spread, 1 Year"},
      {"date":"2000-03-16","value":-0.03,"series":"Spread, 1 Year"},
      {"date":"2000-03-23","value":-0.08,"series":"Spread, 1 Year"},
      {"date":"2000-03-28","value":-0.14,"series":"Spread, 1 Year"},
      {"date":"2000-04-02","value":-0.03,"series":"Spread, 1 Year"},
      {"date":"2000-04-05","value":0.17,"series":"Spread, 1 Year"},
      {"date":"2000-04-09","value":0.14,"series":"Spread, 1 Year"},
      {"date":"2000-04-12","value":0.22,"series":"Spread, 1 Year"},
      {"date":"2000-04-15","value":0.11,"series":"Spread, 1 Year"},
      {"date":"2000-04-19","value":0.19,"series":"Spread, 1 Year"},
      {"date":"2000-04-22","value":0.14,"series":"Spread, 1 Year"},
      {"date":"2000-04-25","value":0.22,"series":"Spread, 1 Year"},
      {"date":"2000-04-28","value":0.17,"series":"Spread, 1 Year"},
      {"date":"2000-05-02","value":0.11,"series":"Spread, 1 Year"},
      {"date":"2000-05-05","value":0.14,"series":"Spread, 1 Year"},
      {"date":"2000-05-08","value":0.06,"series":"Spread, 1 Year"},
      {"date":"2000-05-12","value":0.08,"series":"Spread, 1 Year"},
      {"date":"2000-05-15","value":0.03,"series":"Spread, 1 Year"},
      {"date":"2000-05-18","value":0.06,"series":"Spread, 1 Year"},
      {"date":"2000-05-22","value":0,"series":"Spread, 1 Year"},
      {"date":"2000-05-25","value":0.03,"series":"Spread, 1 Year"},
      {"date":"2000-05-28","value":-0.03,"series":"Spread, 1 Year"},
      {"date":"2000-05-31","value":0,"series":"Spread, 1 Year"},
      {"date":"2000-06-04","value":-0.06,"series":"Spread, 1 Year"},
      {"date":"2000-06-07","value":-0.03,"series":"Spread, 1 Year"},
      {"date":"2000-06-10","value":-0.08,"series":"Spread, 1 Year"},
      {"date":"2000-06-14","value":-0.06,"series":"Spread, 1 Year"},
      {"date":"2000-06-17","value":-0.11,"series":"Spread, 1 Year"},
      {"date":"2000-06-20","value":-0.08,"series":"Spread, 1 Year"},
      {"date":"2000-06-24","value":-0.14,"series":"Spread, 1 Year"},
      {"date":"2000-06-27","value":-0.11,"series":"Spread, 1 Year"},
      {"date":"2000-06-30","value":-0.17,"series":"Spread, 1 Year"},
      {"date":"2000-07-03","value":-0.14,"series":"Spread, 1 Year"},
      {"date":"2000-07-06","value":-0.19,"series":"Spread, 1 Year"},
      {"date":"2000-07-10","value":-0.17,"series":"Spread, 1 Year"},
      {"date":"2000-07-13","value":-0.22,"series":"Spread, 1 Year"},
      {"date":"2000-07-16","value":-0.19,"series":"Spread, 1 Year"},
      {"date":"2000-07-20","value":-0.28,"series":"Spread, 1 Year"},
      {"date":"2000-07-23","value":-0.3,"series":"Spread, 1 Year"},
      {"date":"2000-07-26","value":-0.33,"series":"Spread, 1 Year"},
      {"date":"2000-07-29","value":-0.39,"series":"Spread, 1 Year"},
      {"date":"2000-08-02","value":-0.44,"series":"Spread, 1 Year"},
      {"date":"2000-08-04","value":-0.52,"series":"Spread, 1 Year"},
      {"date":"2000-08-07","value":-0.36,"series":"Spread, 1 Year"},
      {"date":"2000-08-10","value":-0.3,"series":"Spread, 1 Year"},
      {"date":"2000-08-14","value":-0.28,"series":"Spread, 1 Year"},
      {"date":"2000-08-17","value":-0.22,"series":"Spread, 1 Year"},
      {"date":"2000-08-20","value":-0.3,"series":"Spread, 1 Year"},
      {"date":"2000-08-24","value":-0.19,"series":"Spread, 1 Year"},
      {"date":"2000-08-27","value":-0.14,"series":"Spread, 1 Year"},
      {"date":"2000-08-30","value":-0.25,"series":"Spread, 1 Year"},
      {"date":"2000-09-03","value":-0.19,"series":"Spread, 1 Year"},
      {"date":"2000-09-06","value":-0.3,"series":"Spread, 1 Year"},
      {"date":"2000-09-09","value":-0.25,"series":"Spread, 1 Year"},
      {"date":"2000-09-13","value":-0.33,"series":"Spread, 1 Year"},
      {"date":"2000-09-16","value":-0.28,"series":"Spread, 1 Year"},
      {"date":"2000-09-19","value":-0.36,"series":"Spread, 1 Year"},
      {"date":"2000-09-23","value":-0.3,"series":"Spread, 1 Year"},
      {"date":"2000-09-26","value":-0.36,"series":"Spread, 1 Year"},
      {"date":"2000-09-29","value":-0.33,"series":"Spread, 1 Year"},
      {"date":"2000-10-02","value":-0.39,"series":"Spread, 1 Year"},
      {"date":"2000-10-06","value":-0.36,"series":"Spread, 1 Year"},
      {"date":"2000-10-09","value":-0.41,"series":"Spread, 1 Year"},
      {"date":"2000-10-12","value":-0.39,"series":"Spread, 1 Year"},
      {"date":"2000-10-16","value":-0.36,"series":"Spread, 1 Year"},
      {"date":"2000-10-19","value":-0.41,"series":"Spread, 1 Year"},
      {"date":"2000-10-22","value":-0.33,"series":"Spread, 1 Year"},
      {"date":"2000-10-26","value":-0.39,"series":"Spread, 1 Year"},
      {"date":"2000-10-29","value":-0.3,"series":"Spread, 1 Year"},
      {"date":"2000-11-02","value":-0.36,"series":"Spread, 1 Year"},
      {"date":"2000-11-05","value":-0.28,"series":"Spread, 1 Year"},
      {"date":"2000-11-08","value":-0.33,"series":"Spread, 1 Year"},
      {"date":"2000-11-12","value":-0.25,"series":"Spread, 1 Year"},
      {"date":"2000-11-15","value":-0.3,"series":"Spread, 1 Year"},
      {"date":"2000-11-18","value":-0.19,"series":"Spread, 1 Year"},
      {"date":"2000-11-22","value":-0.17,"series":"Spread, 1 Year"},
      {"date":"2000-11-25","value":-0.25,"series":"Spread, 1 Year"},
      {"date":"2000-11-28","value":-0.17,"series":"Spread, 1 Year"},
      {"date":"2000-12-01","value":-0.22,"series":"Spread, 1 Year"},
      {"date":"2000-12-04","value":-0.14,"series":"Spread, 1 Year"},
      {"date":"2000-12-07","value":-0.19,"series":"Spread, 1 Year"},
      {"date":"2000-12-11","value":-0.11,"series":"Spread, 1 Year"},
      {"date":"2000-12-14","value":-0.17,"series":"Spread, 1 Year"},
      {"date":"2000-12-17","value":-0.11,"series":"Spread, 1 Year"},
      {"date":"2000-12-20","value":-0.19,"series":"Spread, 1 Year"},
      {"date":"2000-12-24","value":-0.14,"series":"Spread, 1 Year"},
      {"date":"2000-12-27","value":-0.25,"series":"Spread, 1 Year"},
      {"date":"2000-12-30","value":-0.19,"series":"Spread, 1 Year"},
      {"date":"2001-01-03","value":-0.28,"series":"Spread, 1 Year"},
      {"date":"2001-01-06","value":-0.22,"series":"Spread, 1 Year"},
      {"date":"2001-01-10","value":-0.3,"series":"Spread, 1 Year"},
      {"date":"2001-01-13","value":-0.17,"series":"Spread, 1 Year"},
      {"date":"2001-01-16","value":-0.22,"series":"Spread, 1 Year"},
      {"date":"2001-01-20","value":-0.14,"series":"Spread, 1 Year"},
      {"date":"2001-01-23","value":-0.19,"series":"Spread, 1 Year"},
      {"date":"2001-01-26","value":-0.11,"series":"Spread, 1 Year"},
      {"date":"2001-01-30","value":-0.17,"series":"Spread, 1 Year"},
      {"date":"2001-02-02","value":-0.08,"series":"Spread, 1 Year"},
      {"date":"2001-02-05","value":-0.14,"series":"Spread, 1 Year"},
      {"date":"2001-02-09","value":-0.06,"series":"Spread, 1 Year"},
      {"date":"2001-02-12","value":-0.11,"series":"Spread, 1 Year"},
      {"date":"2001-02-15","value":-0.03,"series":"Spread, 1 Year"},
      {"date":"2001-02-19","value":-0.08,"series":"Spread, 1 Year"},
      {"date":"2001-02-22","value":0,"series":"Spread, 1 Year"},
      {"date":"2001-02-25","value":-0.06,"series":"Spread, 1 Year"},
      {"date":"2001-02-28","value":0.03,"series":"Spread, 1 Year"},
      {"date":"2001-03-02","value":-0.03,"series":"Spread, 1 Year"},
      {"date":"2001-03-05","value":0.08,"series":"Spread, 1 Year"},
      {"date":"2001-03-08","value":0.03,"series":"Spread, 1 Year"},
      {"date":"2001-03-12","value":0.11,"series":"Spread, 1 Year"},
      {"date":"2001-03-15","value":0.06,"series":"Spread, 1 Year"},
      {"date":"2001-03-18","value":0.17,"series":"Spread, 1 Year"},
      {"date":"2001-03-22","value":0.11,"series":"Spread, 1 Year"},
      {"date":"2001-03-25","value":0.22,"series":"Spread, 1 Year"},
      {"date":"2001-03-28","value":0.33,"series":"Spread, 1 Year"},
      {"date":"2001-04-01","value":0.44,"series":"Spread, 1 Year"},
      {"date":"2001-04-02","value":0.28,"series":"Spread, 1 Year"},
      {"date":"2001-04-04","value":0.39,"series":"Spread, 1 Year"},
      {"date":"2001-04-07","value":0.14,"series":"Spread, 1 Year"},
      {"date":"2001-04-10","value":0.25,"series":"Spread, 1 Year"},
      {"date":"2001-04-14","value":0.08,"series":"Spread, 1 Year"},
      {"date":"2001-04-17","value":0.17,"series":"Spread, 1 Year"},
      {"date":"2001-04-20","value":0.06,"series":"Spread, 1 Year"},
      {"date":"2001-04-24","value":0.11,"series":"Spread, 1 Year"},
      {"date":"2001-04-27","value":0,"series":"Spread, 1 Year"},
      {"date":"2001-04-30","value":0.06,"series":"Spread, 1 Year"},
      {"date":"2001-05-03","value":-0.03,"series":"Spread, 1 Year"},
      {"date":"2001-05-07","value":0.03,"series":"Spread, 1 Year"},
      {"date":"2001-05-10","value":-0.06,"series":"Spread, 1 Year"},
      {"date":"2001-05-13","value":0,"series":"Spread, 1 Year"},
      {"date":"2001-05-17","value":-0.03,"series":"Spread, 1 Year"},
      {"date":"2001-05-20","value":0.06,"series":"Spread, 1 Year"},
      {"date":"2001-05-23","value":0,"series":"Spread, 1 Year"},
      {"date":"2001-05-26","value":0.08,"series":"Spread, 1 Year"},
      {"date":"2001-05-30","value":0.03,"series":"Spread, 1 Year"},
      {"date":"2001-06-03","value":0.06,"series":"Spread, 1 Year"},
      {"date":"2001-06-06","value":-0.03,"series":"Spread, 1 Year"},
      {"date":"2001-06-09","value":0.03,"series":"Spread, 1 Year"},
      {"date":"2001-06-13","value":-0.06,"series":"Spread, 1 Year"},
      {"date":"2001-06-16","value":0,"series":"Spread, 1 Year"},
      {"date":"2001-06-19","value":-0.03,"series":"Spread, 1 Year"},
      {"date":"2001-06-23","value":0.06,"series":"Spread, 1 Year"},
      {"date":"2001-06-26","value":0,"series":"Spread, 1 Year"},
      {"date":"2001-06-29","value":0.08,"series":"Spread, 1 Year"},
      {"date":"2001-07-02","value":0,"series":"Spread, 1 Year"},
      {"date":"2001-07-05","value":0.06,"series":"Spread, 1 Year"},
      {"date":"2001-07-09","value":-0.03,"series":"Spread, 1 Year"},
      {"date":"2001-07-12","value":0.03,"series":"Spread, 1 Year"},
      {"date":"2001-07-15","value":-0.06,"series":"Spread, 1 Year"},
      {"date":"2001-07-18","value":0,"series":"Spread, 1 Year"},
      {"date":"2001-07-22","value":-0.08,"series":"Spread, 1 Year"},
      {"date":"2001-07-25","value":-0.03,"series":"Spread, 1 Year"},
      {"date":"2001-07-28","value":-0.08,"series":"Spread, 1 Year"},
      {"date":"2001-08-01","value":-0.14,"series":"Spread, 1 Year"},
      {"date":"2001-08-04","value":-0.08,"series":"Spread, 1 Year"},
      {"date":"2001-08-07","value":-0.17,"series":"Spread, 1 Year"},
      {"date":"2001-08-11","value":-0.11,"series":"Spread, 1 Year"},
      {"date":"2001-08-14","value":-0.19,"series":"Spread, 1 Year"},
      {"date":"2001-08-17","value":-0.14,"series":"Spread, 1 Year"},
      {"date":"2001-08-21","value":-0.08,"series":"Spread, 1 Year"},
      {"date":"2001-08-24","value":-0.17,"series":"Spread, 1 Year"},
      {"date":"2001-08-27","value":-0.08,"series":"Spread, 1 Year"},
      {"date":"2001-08-31","value":-0.03,"series":"Spread, 1 Year"},
      {"date":"2001-09-03","value":0.06,"series":"Spread, 1 Year"},
      {"date":"2001-09-07","value":0.14,"series":"Spread, 1 Year"},
      {"date":"2001-09-10","value":0.25,"series":"Spread, 1 Year"},
      {"date":"2001-09-13","value":0.08,"series":"Spread, 1 Year"},
      {"date":"2001-09-16","value":-0.03,"series":"Spread, 1 Year"},
      {"date":"2001-09-20","value":0.03,"series":"Spread, 1 Year"},
      {"date":"2001-09-23","value":-0.08,"series":"Spread, 1 Year"},
      {"date":"2001-09-26","value":0,"series":"Spread, 1 Year"},
      {"date":"2001-09-30","value":-0.14,"series":"Spread, 1 Year"},
      {"date":"2001-10-03","value":-0.22,"series":"Spread, 1 Year"},
      {"date":"2001-10-06","value":-0.11,"series":"Spread, 1 Year"},
      {"date":"2001-10-10","value":0.06,"series":"Spread, 1 Year"},
      {"date":"2001-10-13","value":0.17,"series":"Spread, 1 Year"},
      {"date":"2001-10-16","value":0.08,"series":"Spread, 1 Year"},
      {"date":"2001-10-20","value":0.14,"series":"Spread, 1 Year"},
      {"date":"2001-10-23","value":0.08,"series":"Spread, 1 Year"},
      {"date":"2001-10-26","value":0.14,"series":"Spread, 1 Year"},
      {"date":"2001-10-29","value":0.06,"series":"Spread, 1 Year"},
      {"date":"2001-11-02","value":0.11,"series":"Spread, 1 Year"},
      {"date":"2001-11-05","value":0.06,"series":"Spread, 1 Year"},
      {"date":"2001-11-08","value":0.14,"series":"Spread, 1 Year"},
      {"date":"2001-11-12","value":0.08,"series":"Spread, 1 Year"},
      {"date":"2001-11-15","value":0.17,"series":"Spread, 1 Year"},
      {"date":"2001-11-18","value":0.08,"series":"Spread, 1 Year"},
      {"date":"2001-11-22","value":0.14,"series":"Spread, 1 Year"},
      {"date":"2001-11-25","value":0.06,"series":"Spread, 1 Year"},
      {"date":"2001-11-28","value":0.14,"series":"Spread, 1 Year"},
      {"date":"2001-12-01","value":0.08,"series":"Spread, 1 Year"},
      {"date":"2001-12-05","value":0.17,"series":"Spread, 1 Year"},
      {"date":"2001-12-08","value":0.11,"series":"Spread, 1 Year"},
      {"date":"2001-12-11","value":0.17,"series":"Spread, 1 Year"},
      {"date":"2001-12-15","value":0.08,"series":"Spread, 1 Year"},
      {"date":"2001-12-18","value":0.14,"series":"Spread, 1 Year"},
      {"date":"2001-12-21","value":0.08,"series":"Spread, 1 Year"},
      {"date":"2001-12-25","value":0.11,"series":"Spread, 1 Year"}
    ]
  },
  "layer": [
    {
      "data": {"name": "events"},
      "mark": {"type": "rule", "color": "#666666", "strokeWidth": 1},
      "encoding": {
        "x": {
          "field": "date", "type": "temporal",
          "scale": {"domain": [{"year": 1998, "month": 9, "date": 2}, {"year": 2001, "month": 12, "date": 26}], "nice": false},
          "axis": {"orient": "bottom", "tickCount": {"interval": "month", "step": 1}, "labels": false, "tickSize": 8, "domain": false, "grid": false, "title": null}
        }
      }
    },
    {
      "data": {"name": "on"},
      "mark": {"type": "line", "color": "black", "strokeWidth": 1.5},
      "encoding": {
        "x": {
          "field": "date", "type": "temporal",
          "scale": {"domain": [{"year": 1998, "month": 9, "date": 2}, {"year": 2001, "month": 12, "date": 26}], "nice": false},
          "axis": {"orient": "bottom", "tickCount": {"interval": "month", "step": 6}, "format": "%y:%m", "formatType": "time", "tickSize": 14, "labelPadding": 5, "labelOverlap": false, "labelFlush": false, "domain": false, "grid": false, "title": null}
        },
        "y": {
          "field": "value", "type": "quantitative",
          "scale": {"domain": [-6.01, 15.31], "nice": false, "zero": false},
          "axis": {"orient": "left", "values": [8, 4, 0, -4], "labelExpr": "datum.value < 0 ? '-' + abs(datum.value) : '' + datum.value", "tickSize": 11, "labelPadding": 6, "domain": false, "grid": false, "title": null}
        },
        "strokeDash": {
          "field": "series", "type": "nominal",
          "scale": {"domain": ["Spread, ON", "Spread, 1 Year"], "range": [[1, 0], [8, 3]]},
          "legend": {"orient": "none", "legendX": 438, "legendY": 181, "title": null, "symbolType": "stroke", "symbolSize": 3025, "symbolStrokeWidth": 1.5, "symbolStrokeColor": "black", "labelFont": "Liberation Sans", "labelFontSize": 29, "labelColor": "black", "labelOffset": 10, "labelLimit": 400, "clipHeight": 37, "rowPadding": 0, "padding": 0}
        }
      }
    },
    {
      "data": {"name": "oneyear"},
      "mark": {"type": "line", "color": "black", "strokeWidth": 1.5},
      "encoding": {
        "x": {
          "field": "date", "type": "temporal",
          "scale": {"domain": [{"year": 1998, "month": 9, "date": 2}, {"year": 2001, "month": 12, "date": 26}], "nice": false},
          "axis": null
        },
        "y": {
          "field": "value", "type": "quantitative",
          "scale": {"domain": [-7.2, 8], "nice": false, "zero": false},
          "axis": {"orient": "right", "values": [8, 6, 4, 2, 0, -2], "labelExpr": "datum.value < 0 ? '-' + abs(datum.value) : '' + datum.value", "tickSize": 10, "labelPadding": 8, "domain": false, "grid": false, "title": null}
        },
        "strokeDash": {
          "field": "series", "type": "nominal",
          "scale": {"domain": ["Spread, ON", "Spread, 1 Year"], "range": [[1, 0], [8, 3]]},
          "legend": {"orient": "none", "legendX": 438, "legendY": 181, "title": null, "symbolType": "stroke", "symbolSize": 3025, "symbolStrokeWidth": 1.5, "symbolStrokeColor": "black", "labelFont": "Liberation Sans", "labelFontSize": 29, "labelColor": "black", "labelOffset": 10, "labelLimit": 400, "clipHeight": 37, "rowPadding": 0, "padding": 0}
        }
      }
    }
  ],
  "resolve": {"scale": {"y": "independent"}, "axis": {"x": "independent"}}
}
